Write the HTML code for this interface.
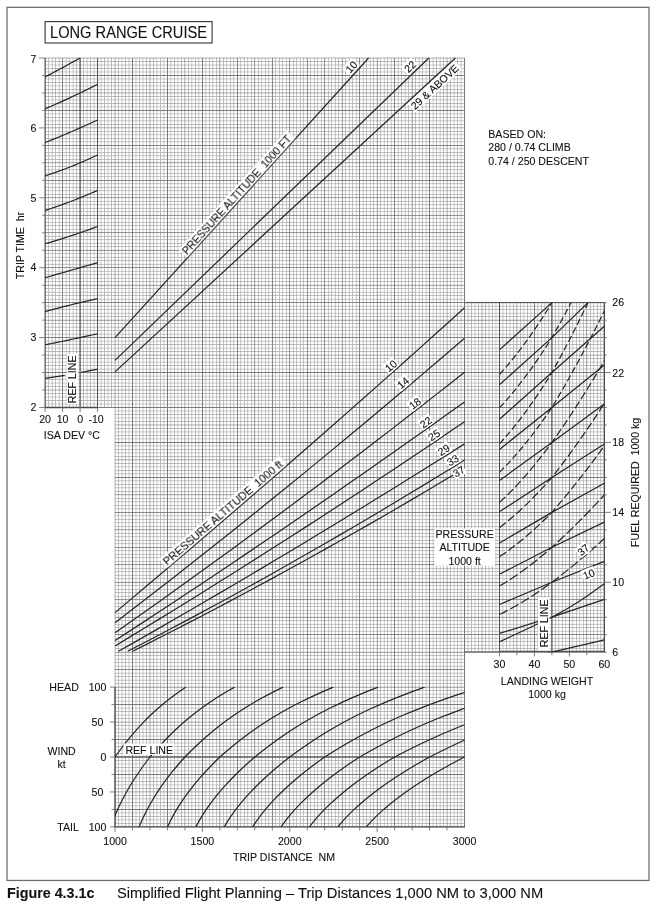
<!DOCTYPE html>
<html lang="en">
<head>
<meta charset="utf-8">
<title>Figure 4.3.1c Simplified Flight Planning - Trip Distances 1,000 NM to 3,000 NM</title>
<style>
html,body{margin:0;padding:0;background:#fff;}
body{width:656px;height:911px;overflow:hidden;position:relative;font-family:"Liberation Sans",sans-serif;color:#1a1a1a;}
#chart{position:absolute;left:0;top:0;width:656px;height:911px;}
#chart text{font-family:"Liberation Sans",sans-serif;fill:#111;stroke:#111;stroke-width:0.1px;}
</style>
</head>
<body>
<svg id="chart" width="656" height="911" viewBox="0 0 656 911">
<rect id="frame" x="7" y="7.35" width="642" height="873.1" fill="none" stroke="#6c6c6c" stroke-width="1.25"/>
<g id="grid-and-curves">
<path d="M69.5 58V407.5M76.5 58V407.5M83.5 58V407.5M90.5 58V407.5M104.5 58V407.5M111.5 58V407.5M118.5 58V407.5M125.5 58V407.5M139.5 58V407.5M146.5 58V407.5M153.5 58V407.5M160.5 58V407.5M174.5 58V407.5M181.5 58V407.5M188.5 58V407.5M195.5 58V407.5M415.5 58V407.5M422.5 58V407.5M436.5 58V407.5M443.5 58V407.5M450.5 58V407.5M457.5 58V407.5M45.12 61.5H464.53M45.12 68.5H464.53M45.12 82.5H464.53M45.12 89.5H464.53M45.12 96.5H464.53M45.12 103.5H464.53M45.12 117.5H464.53M45.12 124.5H464.53M45.12 344.5H464.53M45.12 351.5H464.53M45.12 358.5H464.53M45.12 365.5H464.53M45.12 379.5H464.53M45.12 386.5H464.53M45.12 393.5H464.53M45.12 400.5H464.53M118.5 407.5V826.9M125.5 407.5V826.9M139.5 407.5V826.9M146.5 407.5V826.9M153.5 407.5V826.9M160.5 407.5V826.9M174.5 407.5V826.9M181.5 407.5V826.9M188.5 407.5V826.9M195.5 407.5V826.9M415.5 407.5V826.9M422.5 407.5V826.9M436.5 407.5V826.9M443.5 407.5V826.9M450.5 407.5V826.9M457.5 407.5V826.9M115.03 414.5H464.53M115.03 421.5H464.53M115.03 428.5H464.53M115.03 435.5H464.53M115.03 449.5H464.53M115.03 456.5H464.53M115.03 463.5H464.53M115.03 470.5H464.53M115.03 690.5H464.53M115.03 697.5H464.53M115.03 711.5H464.53M115.03 718.5H464.53M115.03 725.5H464.53M115.03 732.5H464.53M115.03 746.5H464.53M115.03 753.5H464.53M115.03 760.5H464.53M115.03 767.5H464.53M115.03 781.5H464.53M115.03 788.5H464.53M115.03 795.5H464.53M115.03 802.5H464.53M115.03 816.5H464.53M115.03 823.5H464.53M471.5 302.65V652.15M478.5 302.65V652.15M485.5 302.65V652.15M492.5 302.65V652.15M506.5 302.65V652.15M513.5 302.65V652.15M520.5 302.65V652.15M527.5 302.65V652.15M541.5 302.65V652.15M548.5 302.65V652.15M464.53 344.5H604.33M464.53 351.5H604.33M464.53 358.5H604.33M464.53 365.5H604.33M464.53 379.5H604.33M464.53 386.5H604.33M464.53 393.5H604.33M464.53 400.5H604.33M464.53 414.5H604.33M464.53 421.5H604.33M464.53 428.5H604.33M464.53 435.5H604.33M464.53 449.5H604.33M464.53 456.5H604.33M464.53 463.5H604.33M464.53 470.5H604.33" fill="none" stroke="#a0a0a0" stroke-width="0.7" stroke-opacity="0.98"/>
<path d="M48.51 58V407.5M55.51 58V407.5M209.49 58V407.5M216.49 58V407.5M223.49 58V407.5M230.49 58V407.5M244.48 58V407.5M251.48 58V407.5M258.48 58V407.5M265.47 58V407.5M345.53 58V407.5M352.53 58V407.5M366.52 58V407.5M373.51 58V407.5M380.51 58V407.5M387.51 58V407.5M401.51 58V407.5M408.5 58V407.5M45.12 131.5H464.53M45.12 138.49H464.53M45.12 152.49H464.53M45.12 159.49H464.53M45.12 166.49H464.53M45.12 173.48H464.53M45.12 187.47H464.53M45.12 194.47H464.53M45.12 274.53H464.53M45.12 281.52H464.53M45.12 288.52H464.53M45.12 295.52H464.53M45.12 309.51H464.53M45.12 316.51H464.53M45.12 323.51H464.53M45.12 330.51H464.53M209.49 407.5V826.9M216.49 407.5V826.9M223.49 407.5V826.9M230.49 407.5V826.9M244.48 407.5V826.9M251.48 407.5V826.9M258.48 407.5V826.9M265.47 407.5V826.9M345.53 407.5V826.9M352.53 407.5V826.9M366.52 407.5V826.9M373.51 407.5V826.9M380.51 407.5V826.9M387.51 407.5V826.9M401.51 407.5V826.9M408.5 407.5V826.9M115.03 484.49H464.53M115.03 491.49H464.53M115.03 498.49H464.53M115.03 505.49H464.53M115.03 519.48H464.53M115.03 526.48H464.53M115.03 533.48H464.53M115.03 540.47H464.53M115.03 620.53H464.53M115.03 627.53H464.53M115.03 641.52H464.53M115.03 648.51H464.53M115.03 655.51H464.53M115.03 662.51H464.53M115.03 676.51H464.53M115.03 683.5H464.53M555.5 302.65V652.15M562.49 302.65V652.15M576.49 302.65V652.15M583.49 302.65V652.15M590.49 302.65V652.15M597.48 302.65V652.15M464.53 309.51H604.33M464.53 316.51H604.33M464.53 323.51H604.33M464.53 330.51H604.33M464.53 484.49H604.33M464.53 491.49H604.33M464.53 498.49H604.33M464.53 505.49H604.33M464.53 519.48H604.33M464.53 526.48H604.33M464.53 533.48H604.33M464.53 540.47H604.33M464.53 620.53H604.33M464.53 627.53H604.33M464.53 641.52H604.33M464.53 648.51H604.33" fill="none" stroke="#a0a0a0" stroke-width="0.7" stroke-opacity="0.93"/>
<path d="M275.6 58V407.5M279.46 58V407.5M282.59 58V407.5M286.46 58V407.5M293.45 58V407.5M296.57 58V407.5M300.44 58V407.5M303.57 58V407.5M310.56 58V407.5M314.43 58V407.5M317.55 58V407.5M321.42 58V407.5M328.41 58V407.5M331.54 58V407.5M335.4 58V407.5M338.53 58V407.5M45.12 201.47H464.53M45.12 204.6H464.53M45.12 208.46H464.53M45.12 211.59H464.53M45.12 218.58H464.53M45.12 222.45H464.53M45.12 225.57H464.53M45.12 229.44H464.53M45.12 236.43H464.53M45.12 239.56H464.53M45.12 243.43H464.53M45.12 246.55H464.53M45.12 253.54H464.53M45.12 257.41H464.53M45.12 260.54H464.53M45.12 264.4H464.53M275.6 407.5V826.9M279.46 407.5V826.9M282.59 407.5V826.9M286.46 407.5V826.9M293.45 407.5V826.9M296.57 407.5V826.9M300.44 407.5V826.9M303.57 407.5V826.9M310.56 407.5V826.9M314.43 407.5V826.9M317.55 407.5V826.9M321.42 407.5V826.9M328.41 407.5V826.9M331.54 407.5V826.9M335.4 407.5V826.9M338.53 407.5V826.9M115.03 550.6H464.53M115.03 554.46H464.53M115.03 557.59H464.53M115.03 561.46H464.53M115.03 568.45H464.53M115.03 571.57H464.53M115.03 575.44H464.53M115.03 578.57H464.53M115.03 585.56H464.53M115.03 589.43H464.53M115.03 592.55H464.53M115.03 596.42H464.53M115.03 603.41H464.53M115.03 606.54H464.53M115.03 610.4H464.53M115.03 613.53H464.53M464.53 550.6H604.33M464.53 554.46H604.33M464.53 557.59H604.33M464.53 561.46H604.33M464.53 568.45H604.33M464.53 571.57H604.33M464.53 575.44H604.33M464.53 578.57H604.33M464.53 585.56H604.33M464.53 589.43H604.33M464.53 592.55H604.33M464.53 596.42H604.33M464.53 603.41H604.33M464.53 606.54H604.33M464.53 610.4H604.33M464.53 613.53H604.33" fill="none" stroke="#a0a0a0" stroke-width="0.7" stroke-opacity="0.89"/>
<path d="M52.27 58V407.5M59.25 58V407.5M205.75 58V407.5M212.73 58V407.5M226.69 58V407.5M233.68 58V407.5M240.66 58V407.5M247.65 58V407.5M261.63 58V407.5M268.61 58V407.5M349.38 58V407.5M356.37 58V407.5M363.36 58V407.5M370.34 58V407.5M384.31 58V407.5M391.3 58V407.5M398.28 58V407.5M405.26 58V407.5M45.12 134.74H464.53M45.12 141.72H464.53M45.12 148.7H464.53M45.12 155.69H464.53M45.12 169.66H464.53M45.12 176.64H464.53M45.12 183.63H464.53M45.12 190.62H464.53M45.12 271.39H464.53M45.12 278.37H464.53M45.12 292.35H464.53M45.12 299.34H464.53M45.12 306.32H464.53M45.12 313.31H464.53M45.12 327.27H464.53M45.12 334.25H464.53M205.75 407.5V826.9M212.73 407.5V826.9M226.69 407.5V826.9M233.68 407.5V826.9M240.66 407.5V826.9M247.65 407.5V826.9M261.63 407.5V826.9M268.61 407.5V826.9M349.38 407.5V826.9M356.37 407.5V826.9M363.36 407.5V826.9M370.34 407.5V826.9M384.31 407.5V826.9M391.3 407.5V826.9M398.28 407.5V826.9M405.26 407.5V826.9M115.03 480.75H464.53M115.03 487.73H464.53M115.03 501.69H464.53M115.03 508.68H464.53M115.03 515.66H464.53M115.03 522.65H464.53M115.03 536.63H464.53M115.03 543.61H464.53M115.03 624.38H464.53M115.03 631.37H464.53M115.03 638.36H464.53M115.03 645.34H464.53M115.03 659.31H464.53M115.03 666.3H464.53M115.03 673.28H464.53M115.03 680.26H464.53M558.74 302.65V652.15M565.72 302.65V652.15M572.7 302.65V652.15M579.69 302.65V652.15M593.66 302.65V652.15M600.64 302.65V652.15M464.53 306.32H604.33M464.53 313.31H604.33M464.53 327.27H604.33M464.53 334.25H604.33M464.53 480.75H604.33M464.53 487.73H604.33M464.53 501.69H604.33M464.53 508.68H604.33M464.53 515.66H604.33M464.53 522.65H604.33M464.53 536.63H604.33M464.53 543.61H604.33M464.53 624.38H604.33M464.53 631.37H604.33M464.53 638.36H604.33M464.53 645.34H604.33" fill="none" stroke="#a0a0a0" stroke-width="0.7" stroke-opacity="0.85"/>
<path d="M66.23 58V407.5M73.21 58V407.5M87.17 58V407.5M94.15 58V407.5M101.12 58V407.5M108.1 58V407.5M122.04 58V407.5M129.01 58V407.5M135.99 58V407.5M142.96 58V407.5M156.9 58V407.5M163.88 58V407.5M170.85 58V407.5M177.83 58V407.5M191.79 58V407.5M198.77 58V407.5M419.22 58V407.5M426.2 58V407.5M433.18 58V407.5M440.16 58V407.5M454.11 58V407.5M461.08 58V407.5M45.12 64.97H464.53M45.12 71.94H464.53M45.12 78.92H464.53M45.12 85.89H464.53M45.12 99.84H464.53M45.12 106.82H464.53M45.12 113.8H464.53M45.12 120.78H464.53M45.12 341.23H464.53M45.12 348.21H464.53M45.12 362.17H464.53M45.12 369.15H464.53M45.12 376.12H464.53M45.12 383.1H464.53M45.12 397.04H464.53M45.12 404.01H464.53M122.04 407.5V826.9M129.01 407.5V826.9M135.99 407.5V826.9M142.96 407.5V826.9M156.9 407.5V826.9M163.88 407.5V826.9M170.85 407.5V826.9M177.83 407.5V826.9M191.79 407.5V826.9M198.77 407.5V826.9M419.22 407.5V826.9M426.2 407.5V826.9M433.18 407.5V826.9M440.16 407.5V826.9M454.11 407.5V826.9M461.08 407.5V826.9M115.03 410.99H464.53M115.03 417.96H464.53M115.03 431.9H464.53M115.03 438.88H464.53M115.03 445.85H464.53M115.03 452.83H464.53M115.03 466.79H464.53M115.03 473.77H464.53M115.03 694.22H464.53M115.03 701.2H464.53M115.03 708.18H464.53M115.03 715.16H464.53M115.03 729.11H464.53M115.03 736.08H464.53M115.03 743.06H464.53M115.03 750.03H464.53M115.03 763.97H464.53M115.03 770.94H464.53M115.03 777.92H464.53M115.03 784.89H464.53M115.03 798.84H464.53M115.03 805.82H464.53M115.03 812.8H464.53M115.03 819.78H464.53M468.06 302.65V652.15M475.03 302.65V652.15M488.97 302.65V652.15M495.94 302.65V652.15M502.92 302.65V652.15M509.89 302.65V652.15M523.84 302.65V652.15M530.82 302.65V652.15M537.8 302.65V652.15M544.78 302.65V652.15M464.53 341.23H604.33M464.53 348.21H604.33M464.53 362.17H604.33M464.53 369.15H604.33M464.53 376.12H604.33M464.53 383.1H604.33M464.53 397.04H604.33M464.53 404.01H604.33M464.53 410.99H604.33M464.53 417.96H604.33M464.53 431.9H604.33M464.53 438.88H604.33M464.53 445.85H604.33M464.53 452.83H604.33M464.53 466.79H604.33M464.53 473.77H604.33" fill="none" stroke="#a0a0a0" stroke-width="0.7" stroke-opacity="0.80"/>
<path d="M97.5 58V407.5M132.5 58V407.5M167.5 58V407.5M202.5 58V407.5M429.5 58V407.5M464.5 58V407.5M45.12 75.5H464.53M45.12 110.5H464.53M45.12 372.5H464.53M45.12 407.5H464.53M132.5 407.5V826.9M167.5 407.5V826.9M202.5 407.5V826.9M429.5 407.5V826.9M464.5 407.5V826.9M115.03 442.5H464.53M115.03 477.5H464.53M115.03 704.5H464.53M115.03 739.5H464.53M115.03 774.5H464.53M115.03 809.5H464.53M499.5 302.65V652.15M534.5 302.65V652.15M464.53 372.5H604.33M464.53 407.5H604.33M464.53 442.5H604.33M464.53 477.5H604.33" fill="none" stroke="#666" stroke-width="0.9" stroke-opacity="0.95"/>
<path d="M62.5 58V407.5M237.49 58V407.5M272.47 58V407.5M359.52 58V407.5M394.51 58V407.5M45.12 145.49H464.53M45.12 180.48H464.53M45.12 302.51H464.53M45.12 337.5H464.53M237.49 407.5V826.9M272.47 407.5V826.9M359.52 407.5V826.9M394.51 407.5V826.9M115.03 512.49H464.53M115.03 634.52H464.53M115.03 669.51H464.53M569.49 302.65V652.15M604.48 302.65V652.15M464.53 302.51H604.33M464.53 337.5H604.33M464.53 512.49H604.33M464.53 634.52H604.33" fill="none" stroke="#666" stroke-width="0.9" stroke-opacity="0.86"/>
<path d="M289.58 58V407.5M307.44 58V407.5M324.55 58V407.5M45.12 215.45H464.53M45.12 232.56H464.53M45.12 250.42H464.53M45.12 267.53H464.53M289.58 407.5V826.9M307.44 407.5V826.9M324.55 407.5V826.9M115.03 547.47H464.53M115.03 564.58H464.53M115.03 582.44H464.53M115.03 599.55H464.53M115.03 617.39H464.53M464.53 547.47H604.33M464.53 564.58H604.33M464.53 582.44H604.33M464.53 599.55H604.33M464.53 617.39H604.33" fill="none" stroke="#666" stroke-width="0.9" stroke-opacity="0.78"/>
<path d="M45.29 58V407.5M219.71 58V407.5M254.64 58V407.5M342.39 58V407.5M377.33 58V407.5M412.24 58V407.5M45.12 162.67H464.53M45.12 197.61H464.53M45.12 285.36H464.53M45.12 320.29H464.53M219.71 407.5V826.9M254.64 407.5V826.9M342.39 407.5V826.9M377.33 407.5V826.9M412.24 407.5V826.9M115.03 494.71H464.53M115.03 529.64H464.53M115.03 652.33H464.53M115.03 687.24H464.53M115.03 826.76H464.53M586.67 302.65V652.15M464.53 320.29H604.33M464.53 494.71H604.33M464.53 529.64H604.33M464.53 652.33H604.33" fill="none" stroke="#666" stroke-width="0.9" stroke-opacity="0.69"/>
<path d="M80.19 58V407.5M115.07 58V407.5M149.93 58V407.5M184.81 58V407.5M447.14 58V407.5M45.12 58H464.53M45.12 92.86H464.53M45.12 127.76H464.53M45.12 355.19H464.53M45.12 390.07H464.53M115.07 407.5V826.9M149.93 407.5V826.9M184.81 407.5V826.9M447.14 407.5V826.9M115.03 424.93H464.53M115.03 459.81H464.53M115.03 722.14H464.53M115.03 757H464.53M115.03 791.86H464.53M482 302.65V652.15M516.86 302.65V652.15M551.76 302.65V652.15M464.53 355.19H604.33M464.53 390.07H604.33M464.53 424.93H604.33M464.53 459.81H604.33" fill="none" stroke="#666" stroke-width="0.9" stroke-opacity="0.59"/>
<path d="M45.12 58L45.12 407.5" fill="none" stroke="#505050" stroke-width="1.0"/>
<path d="M44.62 407.5L98.05 407.5" fill="none" stroke="#4c4c4c" stroke-width="1.4"/>
<path d="M97.55 58L97.55 407.5" fill="none" stroke="#555" stroke-width="0.9"/>
<path d="M80.08 58L80.08 407.5" fill="none" stroke="#5a5a5a" stroke-width="1.15"/>
<path d="M464.53 58L464.53 302.65" fill="none" stroke="#777" stroke-width="0.9"/>
<path d="M464.53 302.65L464.53 826.9" fill="none" stroke="#777" stroke-width="0.9"/>
<path d="M464.53 302.65L604.33 302.65" fill="none" stroke="#4a4a4a" stroke-width="0.9"/>
<path d="M499.48 302.65L499.48 652.15" fill="none" stroke="#4a4a4a" stroke-width="0.9"/>
<path d="M604.33 302.65L604.33 652.4" fill="none" stroke="#4a4a4a" stroke-width="1.3"/>
<path d="M464.53 651.9L499.48 651.9" fill="none" stroke="#555" stroke-width="1.0"/>
<path d="M499.48 651.6L604.93 651.6" fill="none" stroke="#555" stroke-width="1.5"/>
<path d="M551.9 302.65L551.9 652.15" fill="none" stroke="#5a5a5a" stroke-width="1.15"/>
<path d="M115.03 687.1L115.03 827.5" fill="none" stroke="#4a4a4a" stroke-width="1.3"/>
<path d="M115.03 826.9L465.03 826.9" fill="none" stroke="#505050" stroke-width="1.3"/>
<path d="M115.03 757L464.53 757" fill="none" stroke="#666" stroke-width="1.4"/>
<path d="M39.12 58L45.12 58" fill="none" stroke="#777" stroke-width="0.9"/>
<path d="M42.12 75.47L45.12 75.47" fill="none" stroke="#777" stroke-width="0.9"/>
<path d="M42.12 92.95L45.12 92.95" fill="none" stroke="#777" stroke-width="0.9"/>
<path d="M42.12 110.43L45.12 110.43" fill="none" stroke="#777" stroke-width="0.9"/>
<path d="M39.12 127.9L45.12 127.9" fill="none" stroke="#777" stroke-width="0.9"/>
<path d="M42.12 145.38L45.12 145.38" fill="none" stroke="#777" stroke-width="0.9"/>
<path d="M42.12 162.85L45.12 162.85" fill="none" stroke="#777" stroke-width="0.9"/>
<path d="M42.12 180.32L45.12 180.32" fill="none" stroke="#777" stroke-width="0.9"/>
<path d="M39.12 197.8L45.12 197.8" fill="none" stroke="#777" stroke-width="0.9"/>
<path d="M42.12 215.28L45.12 215.28" fill="none" stroke="#777" stroke-width="0.9"/>
<path d="M42.12 232.75L45.12 232.75" fill="none" stroke="#777" stroke-width="0.9"/>
<path d="M42.12 250.22L45.12 250.22" fill="none" stroke="#777" stroke-width="0.9"/>
<path d="M39.12 267.7L45.12 267.7" fill="none" stroke="#777" stroke-width="0.9"/>
<path d="M42.12 285.18L45.12 285.18" fill="none" stroke="#777" stroke-width="0.9"/>
<path d="M42.12 302.65L45.12 302.65" fill="none" stroke="#777" stroke-width="0.9"/>
<path d="M42.12 320.12L45.12 320.12" fill="none" stroke="#777" stroke-width="0.9"/>
<path d="M39.12 337.6L45.12 337.6" fill="none" stroke="#777" stroke-width="0.9"/>
<path d="M42.12 355.07L45.12 355.07" fill="none" stroke="#777" stroke-width="0.9"/>
<path d="M42.12 372.55L45.12 372.55" fill="none" stroke="#777" stroke-width="0.9"/>
<path d="M42.12 390.03L45.12 390.03" fill="none" stroke="#777" stroke-width="0.9"/>
<path d="M39.12 407.5L45.12 407.5" fill="none" stroke="#777" stroke-width="0.9"/>
<path d="M45.12 407.5L45.12 412" fill="none" stroke="#707070" stroke-width="0.9"/>
<path d="M62.6 407.5L62.6 412" fill="none" stroke="#707070" stroke-width="0.9"/>
<path d="M80.08 407.5L80.08 412" fill="none" stroke="#707070" stroke-width="0.9"/>
<path d="M97.55 407.5L97.55 412" fill="none" stroke="#707070" stroke-width="0.9"/>
<path d="M604.33 302.65L606.83 302.65" fill="none" stroke="#707070" stroke-width="0.9"/>
<path d="M604.33 320.12L606.83 320.12" fill="none" stroke="#707070" stroke-width="0.9"/>
<path d="M604.33 337.6L606.83 337.6" fill="none" stroke="#707070" stroke-width="0.9"/>
<path d="M604.33 355.07L606.83 355.07" fill="none" stroke="#707070" stroke-width="0.9"/>
<path d="M604.33 372.55L610.83 372.55" fill="none" stroke="#707070" stroke-width="0.9"/>
<path d="M604.33 390.03L606.83 390.03" fill="none" stroke="#707070" stroke-width="0.9"/>
<path d="M604.33 407.5L606.83 407.5" fill="none" stroke="#707070" stroke-width="0.9"/>
<path d="M604.33 424.98L606.83 424.98" fill="none" stroke="#707070" stroke-width="0.9"/>
<path d="M604.33 442.45L610.83 442.45" fill="none" stroke="#707070" stroke-width="0.9"/>
<path d="M604.33 459.93L606.83 459.93" fill="none" stroke="#707070" stroke-width="0.9"/>
<path d="M604.33 477.4L606.83 477.4" fill="none" stroke="#707070" stroke-width="0.9"/>
<path d="M604.33 494.88L606.83 494.88" fill="none" stroke="#707070" stroke-width="0.9"/>
<path d="M604.33 512.35L610.83 512.35" fill="none" stroke="#707070" stroke-width="0.9"/>
<path d="M604.33 529.83L606.83 529.83" fill="none" stroke="#707070" stroke-width="0.9"/>
<path d="M604.33 547.3L606.83 547.3" fill="none" stroke="#707070" stroke-width="0.9"/>
<path d="M604.33 564.78L606.83 564.78" fill="none" stroke="#707070" stroke-width="0.9"/>
<path d="M604.33 582.25L610.83 582.25" fill="none" stroke="#707070" stroke-width="0.9"/>
<path d="M604.33 599.73L606.83 599.73" fill="none" stroke="#707070" stroke-width="0.9"/>
<path d="M604.33 617.2L606.83 617.2" fill="none" stroke="#707070" stroke-width="0.9"/>
<path d="M604.33 634.68L606.83 634.68" fill="none" stroke="#707070" stroke-width="0.9"/>
<path d="M604.33 652.15L606.83 652.15" fill="none" stroke="#707070" stroke-width="0.9"/>
<path d="M499.48 652.4L499.48 656.4" fill="none" stroke="#707070" stroke-width="0.9"/>
<path d="M516.95 652.4L516.95 655.4" fill="none" stroke="#707070" stroke-width="0.9"/>
<path d="M534.42 652.4L534.42 656.4" fill="none" stroke="#707070" stroke-width="0.9"/>
<path d="M551.9 652.4L551.9 655.4" fill="none" stroke="#707070" stroke-width="0.9"/>
<path d="M569.38 652.4L569.38 656.4" fill="none" stroke="#707070" stroke-width="0.9"/>
<path d="M586.85 652.4L586.85 655.4" fill="none" stroke="#707070" stroke-width="0.9"/>
<path d="M110.03 687.1L115.03 687.1" fill="none" stroke="#707070" stroke-width="0.9"/>
<path d="M111.53 704.58L115.03 704.58" fill="none" stroke="#707070" stroke-width="0.9"/>
<path d="M110.03 722.05L115.03 722.05" fill="none" stroke="#707070" stroke-width="0.9"/>
<path d="M111.53 739.52L115.03 739.52" fill="none" stroke="#707070" stroke-width="0.9"/>
<path d="M110.03 757L115.03 757" fill="none" stroke="#707070" stroke-width="0.9"/>
<path d="M111.53 774.48L115.03 774.48" fill="none" stroke="#707070" stroke-width="0.9"/>
<path d="M110.03 791.95L115.03 791.95" fill="none" stroke="#707070" stroke-width="0.9"/>
<path d="M111.53 809.43L115.03 809.43" fill="none" stroke="#707070" stroke-width="0.9"/>
<path d="M110.03 826.9L115.03 826.9" fill="none" stroke="#707070" stroke-width="0.9"/>
<path d="M115.03 826.9L115.03 831.9" fill="none" stroke="#707070" stroke-width="0.9"/>
<path d="M132.5 826.9L132.5 830.4" fill="none" stroke="#707070" stroke-width="0.9"/>
<path d="M149.98 826.9L149.98 830.4" fill="none" stroke="#707070" stroke-width="0.9"/>
<path d="M167.45 826.9L167.45 830.4" fill="none" stroke="#707070" stroke-width="0.9"/>
<path d="M184.93 826.9L184.93 830.4" fill="none" stroke="#707070" stroke-width="0.9"/>
<path d="M202.4 826.9L202.4 831.9" fill="none" stroke="#707070" stroke-width="0.9"/>
<path d="M219.88 826.9L219.88 830.4" fill="none" stroke="#707070" stroke-width="0.9"/>
<path d="M237.35 826.9L237.35 830.4" fill="none" stroke="#707070" stroke-width="0.9"/>
<path d="M254.83 826.9L254.83 830.4" fill="none" stroke="#707070" stroke-width="0.9"/>
<path d="M272.3 826.9L272.3 830.4" fill="none" stroke="#707070" stroke-width="0.9"/>
<path d="M289.77 826.9L289.77 831.9" fill="none" stroke="#707070" stroke-width="0.9"/>
<path d="M307.25 826.9L307.25 830.4" fill="none" stroke="#707070" stroke-width="0.9"/>
<path d="M324.73 826.9L324.73 830.4" fill="none" stroke="#707070" stroke-width="0.9"/>
<path d="M342.2 826.9L342.2 830.4" fill="none" stroke="#707070" stroke-width="0.9"/>
<path d="M359.68 826.9L359.68 830.4" fill="none" stroke="#707070" stroke-width="0.9"/>
<path d="M377.15 826.9L377.15 831.9" fill="none" stroke="#707070" stroke-width="0.9"/>
<path d="M394.62 826.9L394.62 830.4" fill="none" stroke="#707070" stroke-width="0.9"/>
<path d="M412.1 826.9L412.1 830.4" fill="none" stroke="#707070" stroke-width="0.9"/>
<path d="M429.57 826.9L429.57 830.4" fill="none" stroke="#707070" stroke-width="0.9"/>
<path d="M447.05 826.9L447.05 830.4" fill="none" stroke="#707070" stroke-width="0.9"/>
<path d="M45.12 76.9L47.31 75.76L49.49 74.61L51.68 73.45L53.86 72.29L56.05 71.13L58.23 69.96L60.42 68.79L62.6 67.61L64.78 66.42L66.97 65.24L69.15 64.04L71.34 62.84L73.52 61.64L75.71 60.43L77.89 59.22L80.08 58" fill="none" stroke="#262626" stroke-width="1.22" stroke-linejoin="round"/>
<path d="M45.12 108.85L48.4 107.43L51.68 106L54.95 104.55L58.23 103.09L61.51 101.61L64.78 100.12L68.06 98.61L71.34 97.09L74.61 95.55L77.89 93.99L81.17 92.43L84.44 90.84L87.72 89.24L91 87.63L94.27 86L97.55 84.35" fill="none" stroke="#262626" stroke-width="1.22" stroke-linejoin="round"/>
<path d="M45.12 142.5L48.4 141.2L51.68 139.88L54.95 138.56L58.23 137.21L61.51 135.86L64.78 134.48L68.06 133.1L71.34 131.7L74.61 130.29L77.89 128.86L81.17 127.42L84.44 125.96L87.72 124.49L91 123.01L94.27 121.51L97.55 120" fill="none" stroke="#262626" stroke-width="1.22" stroke-linejoin="round"/>
<path d="M45.12 175.85L48.4 174.79L51.68 173.7L54.95 172.57L58.23 171.41L61.51 170.22L64.78 169L68.06 167.74L71.34 166.45L74.61 165.13L77.89 163.77L81.17 162.38L84.44 160.96L87.72 159.51L91 158.02L94.27 156.5L97.55 154.95" fill="none" stroke="#262626" stroke-width="1.22" stroke-linejoin="round"/>
<path d="M45.12 210.4L48.4 209.34L51.68 208.26L54.95 207.15L58.23 206.02L61.51 204.86L64.78 203.67L68.06 202.46L71.34 201.22L74.61 199.96L77.89 198.67L81.17 197.36L84.44 196.02L87.72 194.65L91 193.26L94.27 191.84L97.55 190.4" fill="none" stroke="#262626" stroke-width="1.22" stroke-linejoin="round"/>
<path d="M45.12 243.75L48.4 242.81L51.68 241.85L54.95 240.87L58.23 239.88L61.51 238.86L64.78 237.82L68.06 236.77L71.34 235.7L74.61 234.61L77.89 233.5L81.17 232.37L84.44 231.22L87.72 230.06L91 228.88L94.27 227.67L97.55 226.45" fill="none" stroke="#262626" stroke-width="1.22" stroke-linejoin="round"/>
<path d="M45.12 277.7L48.4 276.76L51.68 275.83L54.95 274.89L58.23 273.95L61.51 273.01L64.78 272.08L68.06 271.14L71.34 270.2L74.61 269.26L77.89 268.33L81.17 267.39L84.44 266.45L87.72 265.51L91 264.58L94.27 263.64L97.55 262.7" fill="none" stroke="#262626" stroke-width="1.22" stroke-linejoin="round"/>
<path d="M45.12 311.6L48.4 310.7L51.68 309.81L54.95 308.93L58.23 308.06L61.51 307.21L64.78 306.38L68.06 305.55L71.34 304.74L74.61 303.95L77.89 303.16L81.17 302.4L84.44 301.64L87.72 300.9L91 300.17L94.27 299.45L97.55 298.75" fill="none" stroke="#262626" stroke-width="1.22" stroke-linejoin="round"/>
<path d="M45.12 344.8L48.4 344.15L51.68 343.49L54.95 342.83L58.23 342.16L61.51 341.49L64.78 340.82L68.06 340.14L71.34 339.45L74.61 338.76L77.89 338.07L81.17 337.37L84.44 336.66L87.72 335.95L91 335.24L94.27 334.52L97.55 333.8" fill="none" stroke="#262626" stroke-width="1.22" stroke-linejoin="round"/>
<path d="M45.12 378.45L48.4 377.95L51.68 377.44L54.95 376.91L58.23 376.38L61.51 375.83L64.78 375.28" fill="none" stroke="#262626" stroke-width="1.22" stroke-linejoin="round"/>
<path d="M81.17 372.35L84.44 371.73L87.72 371.1L91 370.46L94.27 369.81L97.55 369.15" fill="none" stroke="#262626" stroke-width="1.22" stroke-linejoin="round"/>
<path d="M115.03 337.71L368.62 58" fill="none" stroke="#262626" stroke-width="1.22"/>
<path d="M115.03 360.36L428.81 58" fill="none" stroke="#262626" stroke-width="1.22"/>
<path d="M115.03 371.85L455.38 58" fill="none" stroke="#262626" stroke-width="1.22"/>
<path d="M115.03 612.6L129.59 600.35L144.15 588.05L158.71 575.72L173.28 563.35L187.84 550.95L202.4 538.5L216.96 526.01L231.53 513.49L246.09 500.92L260.65 488.32L275.21 475.68L289.77 463L304.34 450.28L318.9 437.53L333.46 424.73L348.02 411.89L362.59 399.02L377.15 386.11L391.71 373.16L406.27 360.17L420.84 347.14L435.4 334.07L449.96 320.97L464.52 307.82" fill="none" stroke="#262626" stroke-width="1.22" stroke-linejoin="round"/>
<path d="M115.03 622.7L129.59 611.53L144.15 600.3L158.71 589.01L173.28 577.66L187.84 566.25L202.4 554.79L216.96 543.26L231.53 531.67L246.09 520.03L260.65 508.32L275.21 496.56L289.77 484.73L304.34 472.85L318.9 460.9L333.46 448.9L348.02 436.84L362.59 424.72L377.15 412.53L391.71 400.29L406.27 387.99L420.84 375.63L435.4 363.21L449.96 350.73L464.52 338.19" fill="none" stroke="#262626" stroke-width="1.22" stroke-linejoin="round"/>
<path d="M115.03 632.7L129.59 622.49L144.15 612.22L158.71 601.89L173.28 591.51L187.84 581.08L202.4 570.59L216.96 560.04L231.53 549.43L246.09 538.77L260.65 528.06L275.21 517.29L289.77 506.46L304.34 495.58L318.9 484.64L333.46 473.65L348.02 462.6L362.59 451.49L377.15 440.33L391.71 429.11L406.27 417.84L420.84 406.51L435.4 395.12L449.96 383.68L464.52 372.18" fill="none" stroke="#262626" stroke-width="1.22" stroke-linejoin="round"/>
<path d="M115.03 640.6L129.59 631.13L144.15 621.62L158.71 612.06L173.28 602.47L187.84 592.83L202.4 583.16L216.96 573.44L231.53 563.68L246.09 553.88L260.65 544.03L275.21 534.15L289.77 524.22L304.34 514.25L318.9 504.24L333.46 494.19L348.02 484.1L362.59 473.97L377.15 463.79L391.71 453.58L406.27 443.32L420.84 433.02L435.4 422.68L449.96 412.3L464.52 401.88" fill="none" stroke="#262626" stroke-width="1.22" stroke-linejoin="round"/>
<path d="M115.03 645.9L129.59 637.11L144.15 628.27L158.71 619.38L173.28 610.44L187.84 601.46L202.4 592.43L216.96 583.35L231.53 574.22L246.09 565.05L260.65 555.82L275.21 546.55L289.77 537.23L304.34 527.87L318.9 518.45L333.46 508.99L348.02 499.48L362.59 489.92L377.15 480.31L391.71 470.66L406.27 460.95L420.84 451.2L435.4 441.4L449.96 431.56L464.52 421.66" fill="none" stroke="#262626" stroke-width="1.22" stroke-linejoin="round"/>
<path d="M118.5 651.3L132.92 643.11L147.34 634.87L161.75 626.6L176.17 618.29L190.59 609.94L205.01 601.56L219.42 593.13L233.84 584.66L248.26 576.16L262.68 567.61L277.09 559.03L291.51 550.4L305.93 541.74L320.35 533.04L334.77 524.3L349.18 515.52L363.6 506.7L378.02 497.84L392.44 488.94L406.85 480.01L421.27 471.03L435.69 462.02L450.11 452.96L464.53 443.87" fill="none" stroke="#262626" stroke-width="1.22" stroke-linejoin="round"/>
<path d="M127.7 651.3L141.73 644.04L155.77 636.72L169.8 629.33L183.84 621.88L197.87 614.38L211.91 606.81L225.94 599.18L239.98 591.48L254.01 583.73L268.04 575.91L282.08 568.03L296.11 560.09L310.15 552.09L324.18 544.03L338.22 535.9L352.25 527.72L366.28 519.47L380.32 511.16L394.35 502.79L408.39 494.35L422.42 485.86L436.46 477.3L450.49 468.68L464.53 460" fill="none" stroke="#262626" stroke-width="1.22" stroke-linejoin="round"/>
<path d="M132.6 651.3L146.43 644.34L160.26 637.32L174.09 630.25L187.92 623.12L201.75 615.92L215.58 608.68L229.41 601.37L243.24 594L257.07 586.58L270.9 579.1L284.73 571.56L298.56 563.97L312.39 556.31L326.22 548.6L340.05 540.83L353.88 533L367.71 525.12L381.54 517.17L395.37 509.17L409.2 501.11L423.03 492.99L436.86 484.82L450.69 476.58L464.53 468.29" fill="none" stroke="#262626" stroke-width="1.22" stroke-linejoin="round"/>
<clipPath id="cpR"><rect x="499.48" y="302.65" width="104.85" height="349.5"/></clipPath>
<g clip-path="url(#cpR)">
<path d="M499.48 349.83L551.9 302.65L604.33 251.8" fill="none" stroke="#262626" stroke-width="1.22" stroke-linejoin="round"/>
<path d="M499.48 384.73L551.9 337.6L604.33 286.75" fill="none" stroke="#262626" stroke-width="1.22" stroke-linejoin="round"/>
<path d="M499.48 419.26L551.9 372.55L604.33 326.21" fill="none" stroke="#262626" stroke-width="1.22" stroke-linejoin="round"/>
<path d="M499.48 449.44L551.9 407.5L604.33 364.98" fill="none" stroke="#262626" stroke-width="1.22" stroke-linejoin="round"/>
<path d="M499.48 480.56L551.9 442.45L604.33 404.02" fill="none" stroke="#262626" stroke-width="1.22" stroke-linejoin="round"/>
<path d="M499.48 511.74L551.9 477.4L604.33 444.01" fill="none" stroke="#262626" stroke-width="1.22" stroke-linejoin="round"/>
<path d="M499.48 543.07L551.9 512.35L604.33 483.25" fill="none" stroke="#262626" stroke-width="1.22" stroke-linejoin="round"/>
<path d="M499.48 574.19L551.9 547.3L604.33 522.14" fill="none" stroke="#262626" stroke-width="1.22" stroke-linejoin="round"/>
<path d="M499.48 604.48L551.9 582.25L604.33 561.44" fill="none" stroke="#262626" stroke-width="1.22" stroke-linejoin="round"/>
<path d="M499.48 665.26L551.9 652.15L604.33 639.93" fill="none" stroke="#262626" stroke-width="1.22" stroke-linejoin="round"/>
<path d="M499.48 374.47L503.84 369.58L508.21 364.5L512.58 359.21L516.95 353.72L521.32 348.04L525.69 342.15L530.06 336.07L534.43 329.78L538.79 323.3L543.16 316.62L547.53 309.73L551.9 302.65L556.27 294.71L560.64 286.63L565.01 278.4L569.38 270.03L573.74 261.51L578.11 252.85L582.48 244.04L586.85 235.08L591.22 225.98L595.59 216.73L599.96 207.34L604.33 197.8" fill="none" stroke="#262626" stroke-width="1.22" stroke-linejoin="round" stroke-dasharray="6.5 3"/>
<path d="M499.48 407.85L503.84 403.07L508.21 398.09L512.58 392.92L516.95 387.56L521.32 381.99L525.69 376.24L530.06 370.29L534.43 364.14L538.79 357.8L543.16 351.26L547.53 344.53L551.9 337.6L556.27 329.86L560.64 321.98L565.01 313.96L569.38 305.8L573.74 297.49L578.11 289.04L582.48 280.45L586.85 271.72L591.22 262.85L595.59 253.83L599.96 244.67L604.33 235.37" fill="none" stroke="#262626" stroke-width="1.22" stroke-linejoin="round" stroke-dasharray="6.5 3"/>
<path d="M499.48 443.85L503.84 439L508.21 433.95L512.58 428.7L516.95 423.25L521.32 417.61L525.69 411.76L530.06 405.72L534.43 399.48L538.79 393.05L543.16 386.41L547.53 379.58L551.9 372.55L556.27 364.61L560.64 356.53L565.01 348.3L569.38 339.93L573.74 331.41L578.11 322.75L582.48 313.94L586.85 304.98L591.22 295.88L595.59 286.63L599.96 277.24L604.33 267.7" fill="none" stroke="#262626" stroke-width="1.22" stroke-linejoin="round" stroke-dasharray="6.5 3"/>
<path d="M499.48 472.35L503.84 467.94L508.21 463.34L512.58 458.57L516.95 453.62L521.32 448.48L525.69 443.17L530.06 437.67L534.43 432L538.79 426.14L543.16 420.11L547.53 413.89L551.9 407.5L556.27 400.2L560.64 392.76L565.01 385.19L569.38 377.49L573.74 369.65L578.11 361.68L582.48 353.58L586.85 345.34L591.22 336.96L595.59 328.45L599.96 319.81L604.33 311.04" fill="none" stroke="#262626" stroke-width="1.22" stroke-linejoin="round" stroke-dasharray="6.5 3"/>
<path d="M499.48 502.48L503.84 498.39L508.21 494.14L512.58 489.72L516.95 485.14L521.32 480.38L525.69 475.46L530.06 470.38L534.43 465.13L538.79 459.71L543.16 454.12L547.53 448.37L551.9 442.45L556.27 436.26L560.64 429.96L565.01 423.54L569.38 417.01L573.74 410.36L578.11 403.6L582.48 396.73L586.85 389.75L591.22 382.65L595.59 375.43L599.96 368.11L604.33 360.67" fill="none" stroke="#262626" stroke-width="1.22" stroke-linejoin="round" stroke-dasharray="8 3"/>
<path d="M499.48 527.73L503.84 524.3L508.21 520.74L512.58 517.03L516.95 513.19L521.32 509.2L525.69 505.08L530.06 500.82L534.43 496.41L538.79 491.87L543.16 487.19L547.53 482.36L551.9 477.4L556.27 471.8L560.64 466.11L565.01 460.31L569.38 454.4L573.74 448.4L578.11 442.29L582.48 436.08L586.85 429.76L591.22 423.35L595.59 416.83L599.96 410.21L604.33 403.48" fill="none" stroke="#262626" stroke-width="1.22" stroke-linejoin="round" stroke-dasharray="8 3"/>
<path d="M499.48 556.75L503.84 553.73L508.21 550.59L512.58 547.32L516.95 543.93L521.32 540.41L525.69 536.77L530.06 533.01L534.43 529.12L538.79 525.12L543.16 520.98L547.53 516.73L551.9 512.35L556.27 507.31L560.64 502.18L565.01 496.95L569.38 491.64L573.74 486.23L578.11 480.72L582.48 475.13L586.85 469.44L591.22 463.66L595.59 457.79L599.96 451.83L604.33 445.77" fill="none" stroke="#262626" stroke-width="1.22" stroke-linejoin="round" stroke-dasharray="8 3"/>
<path d="M499.48 586.09L503.84 583.45L508.21 580.71L512.58 577.85L516.95 574.89L521.32 571.82L525.69 568.64L530.06 565.35L534.43 561.96L538.79 558.45L543.16 554.84L547.53 551.13L551.9 547.3L556.27 543.33L560.64 539.29L565.01 535.18L569.38 530.99L573.74 526.73L578.11 522.4L582.48 517.99L586.85 513.51L591.22 508.96L595.59 504.34L599.96 499.64L604.33 494.87" fill="none" stroke="#262626" stroke-width="1.22" stroke-linejoin="round" stroke-dasharray="9.4 2.8"/>
<path d="M499.48 614.54L503.84 612.35L508.21 610.06L512.58 607.68L516.95 605.21L521.32 602.66L525.69 600.01L530.06 597.28L534.43 594.45L538.79 591.53L543.16 588.53L547.53 585.43L551.9 582.25L556.27 578.94L560.64 575.57L565.01 572.14L569.38 568.65L573.74 565.1L578.11 561.48L582.48 557.81L586.85 554.07L591.22 550.28L595.59 546.42L599.96 542.51L604.33 538.53" fill="none" stroke="#262626" stroke-width="1.22" stroke-linejoin="round" stroke-dasharray="9.4 2.8"/>
<path d="M499.48 633.45L551.9 617.2L604.33 599.38" fill="none" stroke="#262626" stroke-width="1.22" stroke-linejoin="round"/>
<path d="M499.48 641.84L551.9 617.2L557.14 614.41L562.39 611.5L567.63 608.46L572.87 605.29L578.11 602L583.36 598.58L588.6 595.03L593.84 591.36L599.08 587.57L604.33 583.65" fill="none" stroke="#262626" stroke-width="1.22" stroke-linejoin="round"/>
</g>
<clipPath id="cpW"><rect x="115.03" y="687.1" width="349.5" height="139.8"/></clipPath>
<g clip-path="url(#cpW)">
<path d="M82.28 826.9L83.31 823.4L84.41 819.91L85.58 816.41L86.8 812.92L88.09 809.42L89.44 805.93L90.86 802.43L92.34 798.94L93.88 795.45L95.49 791.95L97.16 788.46L98.89 784.96L100.68 781.47L102.54 777.97L104.46 774.48L106.45 770.98L108.5 767.49L110.61 763.99L112.79 760.5L115.03 757L117.53 753.5L120.09 750.01L122.72 746.51L125.42 743.02L128.19 739.52L131.06 736.03L134.03 732.53L137.11 729.04L140.31 725.54L143.64 722.05L147.1 718.55L150.71 715.06L154.48 711.57L158.41 708.07L162.52 704.58L166.81 701.08L171.3 697.59L175.98 694.09L180.88 690.6L186 687.1" fill="none" stroke="#262626" stroke-width="1.22" stroke-linejoin="round"/>
<path d="M110.68 826.9L111.92 823.4L113.24 819.91L114.63 816.41L116.1 812.92L117.65 809.42L119.27 805.93L120.97 802.43L122.75 798.94L124.6 795.45L126.53 791.95L128.53 788.46L130.61 784.96L132.76 781.47L134.99 777.97L137.3 774.48L139.68 770.98L142.14 767.49L144.68 763.99L147.29 760.5L149.98 757L152.97 753.5L156.02 750.01L159.15 746.51L162.37 743.02L165.69 739.52L169.11 736.03L172.65 732.53L176.33 729.04L180.14 725.54L184.11 722.05L188.24 718.55L192.55 715.06L197.05 711.57L201.74 708.07L206.64 704.58L211.76 701.08L217.11 697.59L222.7 694.09L228.54 690.6L234.65 687.1" fill="none" stroke="#262626" stroke-width="1.22" stroke-linejoin="round"/>
<path d="M139.07 826.9L140.52 823.4L142.06 819.91L143.69 816.41L145.41 812.92L147.21 809.42L149.1 805.93L151.09 802.43L153.16 798.94L155.32 795.45L157.57 791.95L159.9 788.46L162.33 784.96L164.84 781.47L167.45 777.97L170.14 774.48L172.92 770.98L175.79 767.49L178.74 763.99L181.79 760.5L184.93 757L188.39 753.5L191.93 750.01L195.56 746.51L199.29 743.02L203.13 739.52L207.1 736.03L211.2 732.53L215.46 729.04L219.88 725.54L224.48 722.05L229.27 718.55L234.26 715.06L239.46 711.57L244.9 708.07L250.58 704.58L256.51 701.08L262.71 697.59L269.19 694.09L275.96 690.6L283.04 687.1" fill="none" stroke="#262626" stroke-width="1.22" stroke-linejoin="round"/>
<path d="M167.47 826.9L169.13 823.4L170.89 819.91L172.75 816.41L174.71 812.92L176.77 809.42L178.94 805.93L181.2 802.43L183.57 798.94L186.04 795.45L188.61 791.95L191.28 788.46L194.05 784.96L196.92 781.47L199.9 777.97L202.97 774.48L206.15 770.98L209.43 767.49L212.81 763.99L216.29 760.5L219.88 757L223.88 753.5L227.98 750.01L232.18 746.51L236.49 743.02L240.93 739.52L245.52 736.03L250.27 732.53L255.19 729.04L260.3 725.54L265.62 722.05L271.16 718.55L276.93 715.06L282.95 711.57L289.24 708.07L295.81 704.58L302.67 701.08L309.84 697.59L317.33 694.09L325.16 690.6L333.35 687.1" fill="none" stroke="#262626" stroke-width="1.22" stroke-linejoin="round"/>
<path d="M195.87 826.9L197.73 823.4L199.71 819.91L201.8 816.41L204.01 812.92L206.33 809.42L208.77 805.93L211.31 802.43L213.98 798.94L216.75 795.45L219.65 791.95L222.65 788.46L225.77 784.96L229 781.47L232.35 777.97L235.81 774.48L239.39 770.98L243.07 767.49L246.88 763.99L250.79 760.5L254.83 757L259.18 753.5L263.63 750.01L268.19 746.51L272.87 743.02L277.7 739.52L282.68 736.03L287.84 732.53L293.18 729.04L298.74 725.54L304.52 722.05L310.53 718.55L316.8 715.06L323.34 711.57L330.17 708.07L337.31 704.58L344.76 701.08L352.55 697.59L360.69 694.09L369.2 690.6L378.09 687.1" fill="none" stroke="#262626" stroke-width="1.22" stroke-linejoin="round"/>
<path d="M224.26 826.9L226.33 823.4L228.53 819.91L230.86 816.41L233.31 812.92L235.89 809.42L238.6 805.93L241.43 802.43L244.39 798.94L247.47 795.45L250.69 791.95L254.02 788.46L257.49 784.96L261.08 781.47L264.8 777.97L268.65 774.48L272.62 770.98L276.72 767.49L280.94 763.99L285.3 760.5L289.77 757L294.54 753.5L299.41 750.01L304.4 746.51L309.52 743.02L314.8 739.52L320.25 736.03L325.89 732.53L331.75 729.04L337.82 725.54L344.14 722.05L350.73 718.55L357.59 715.06L364.74 711.57L372.22 708.07L380.02 704.58L388.17 701.08L396.7 697.59L405.6 694.09L414.91 690.6L424.64 687.1" fill="none" stroke="#262626" stroke-width="1.22" stroke-linejoin="round"/>
<path d="M252.66 826.9L254.94 823.4L257.36 819.91L259.92 816.41L262.61 812.92L265.45 809.42L268.43 805.93L271.54 802.43L274.8 798.94L278.19 795.45L281.73 791.95L285.4 788.46L289.21 784.96L293.16 781.47L297.25 777.97L301.48 774.48L305.85 770.98L310.36 767.49L315.01 763.99L319.8 760.5L324.73 757L330.27 753.5L335.93 750.01L341.72 746.51L347.68 743.02L353.82 739.52L360.16 736.03L366.72 732.53L373.53 729.04L380.59 725.54L387.94 722.05L395.59 718.55L403.57 715.06L411.89 711.57L420.58 708.07L429.66 704.58L439.14 701.08L449.05 697.59L459.4 694.09L470.23 690.6L481.54 687.1" fill="none" stroke="#262626" stroke-width="1.22" stroke-linejoin="round"/>
<path d="M281.06 826.9L283.54 823.4L286.18 819.91L288.97 816.41L291.92 812.92L295.01 809.42L298.26 805.93L301.66 802.43L305.21 798.94L308.91 795.45L312.77 791.95L316.77 788.46L320.93 784.96L325.24 781.47L329.71 777.97L334.32 774.48L339.09 770.98L344.01 767.49L349.08 763.99L354.3 760.5L359.68 757L365.78 753.5L372.01 750.01L378.4 746.51L384.97 743.02L391.73 739.52L398.71 736.03L405.94 732.53L413.44 729.04L421.22 725.54L429.32 722.05L437.75 718.55L446.53 715.06L455.7 711.57L465.27 708.07L475.27 704.58L485.71 701.08L496.63 697.59L508.04 694.09L519.96 690.6L532.43 687.1" fill="none" stroke="#262626" stroke-width="1.22" stroke-linejoin="round"/>
<path d="M309.45 826.9L312.15 823.4L315.01 819.91L318.03 816.41L321.22 812.92L324.57 809.42L328.09 805.93L331.77 802.43L335.62 798.94L339.63 795.45L343.81 791.95L348.15 788.46L352.65 784.96L357.32 781.47L362.16 777.97L367.16 774.48L372.32 770.98L377.65 767.49L383.14 763.99L388.8 760.5L394.62 757L401.37 753.5L408.25 750.01L415.31 746.51L422.56 743.02L430.02 739.52L437.74 736.03L445.72 732.53L454 729.04L462.59 725.54L471.54 722.05L480.85 718.55L490.55 715.06L500.68 711.57L511.25 708.07L522.29 704.58L533.82 701.08L545.88 697.59L558.48 694.09L571.65 690.6L585.41 687.1" fill="none" stroke="#262626" stroke-width="1.22" stroke-linejoin="round"/>
<path d="M337.85 826.9L340.75 823.4L343.83 819.91L347.09 816.41L350.52 812.92L354.13 809.42L357.92 805.93L361.89 802.43L366.03 798.94L370.35 795.45L374.85 791.95L379.52 788.46L384.37 784.96L389.4 781.47L394.61 777.97L399.99 774.48L405.56 770.98L411.29 767.49L417.21 763.99L423.3 760.5L429.58 757L436.49 753.5L443.55 750.01L450.79 746.51L458.22 743.02L465.88 739.52L473.79 736.03L481.98 732.53L490.47 729.04L499.29 725.54L508.46 722.05L518.01 718.55L527.96 715.06L538.35 711.57L549.19 708.07L560.51 704.58L572.34 701.08L584.71 697.59L597.63 694.09L611.14 690.6L625.25 687.1" fill="none" stroke="#262626" stroke-width="1.22" stroke-linejoin="round"/>
<path d="M366.25 826.9L369.36 823.4L372.65 819.91L376.14 816.41L379.82 812.92L383.69 809.42L387.75 805.93L392 802.43L396.44 798.94L401.07 795.45L405.89 791.95L410.89 788.46L416.09 784.96L421.48 781.47L427.06 777.97L432.83 774.48L438.79 770.98L444.94 767.49L451.28 763.99L457.81 760.5L464.52 757L471.93 753.5L479.5 750.01L487.25 746.51L495.22 743.02L503.43 739.52L511.9 736.03L520.68 732.53L529.77 729.04L539.22 725.54L549.04 722.05L559.28 718.55L569.94 715.06L581.07 711.57L592.68 708.07L604.82 704.58L617.49 701.08L630.74 697.59L644.59 694.09L659.06 690.6L674.18 687.1" fill="none" stroke="#262626" stroke-width="1.22" stroke-linejoin="round"/>
</g>
</g>
<g id="labels" opacity="0.999">
<rect x="45.1" y="21.6" width="167" height="21.4" fill="#fff" stroke="#333" stroke-width="1.1"/>
<text x="50" y="38.2" font-size="16.1" textLength="157" lengthAdjust="spacingAndGlyphs">LONG RANGE CRUISE</text>
<text x="36.3" y="63.29" font-size="10.6" text-anchor="end">7</text>
<text x="36.3" y="131.69" font-size="10.6" text-anchor="end">6</text>
<text x="36.3" y="201.59" font-size="10.6" text-anchor="end">5</text>
<text x="36.3" y="271.49" font-size="10.6" text-anchor="end">4</text>
<text x="36.3" y="341.39" font-size="10.6" text-anchor="end">3</text>
<text x="36.3" y="411.29" font-size="10.6" text-anchor="end">2</text>
<text x="24" y="245.5" font-size="10.6" text-anchor="middle" transform="rotate(-90 24 245.5)">TRIP TIME&#160; hr</text>
<text x="45.12" y="422.9" font-size="10.6" text-anchor="middle">20</text>
<text x="62.6" y="422.9" font-size="10.6" text-anchor="middle">10</text>
<text x="80.08" y="422.9" font-size="10.6" text-anchor="middle">0</text>
<text x="103.75" y="422.9" font-size="10.6" text-anchor="end">-10</text>
<text x="43.8" y="438.9" font-size="10.6" text-anchor="start">ISA DEV &#176;C</text>
<rect x="66.6" y="354" width="11.6" height="50" fill="#fff"/>
<text x="76.2" y="379.3" font-size="10.6" text-anchor="middle" transform="rotate(-90 76.2 379.3)">REF LINE</text>
<text x="488.3" y="137.8" font-size="10.6" text-anchor="start">BASED ON:</text>
<text x="488.3" y="151.2" font-size="10.6" text-anchor="start">280 / 0.74 CLIMB</text>
<text x="488.3" y="164.6" font-size="10.6" text-anchor="start">0.74 / 250 DESCENT</text>
<text x="612.3" y="305.84" font-size="10.6" text-anchor="start">26</text>
<text x="612.3" y="376.54" font-size="10.6" text-anchor="start">22</text>
<text x="612.3" y="446.44" font-size="10.6" text-anchor="start">18</text>
<text x="612.3" y="516.34" font-size="10.6" text-anchor="start">14</text>
<text x="612.3" y="586.24" font-size="10.6" text-anchor="start">10</text>
<text x="612.3" y="656.14" font-size="10.6" text-anchor="start">6</text>
<text x="638.6" y="482.3" font-size="10.6" text-anchor="middle" transform="rotate(-90 638.6 482.3)">FUEL REQUIRED&#160; 1000 kg</text>
<text x="499.48" y="668.2" font-size="10.6" text-anchor="middle">30</text>
<text x="534.42" y="668.2" font-size="10.6" text-anchor="middle">40</text>
<text x="569.38" y="668.2" font-size="10.6" text-anchor="middle">50</text>
<text x="604.33" y="668.2" font-size="10.6" text-anchor="middle">60</text>
<text x="547" y="685" font-size="10.6" text-anchor="middle">LANDING WEIGHT</text>
<text x="547" y="698" font-size="10.6" text-anchor="middle">1000 kg</text>
<rect x="538" y="597.5" width="11.6" height="53" fill="#fff"/>
<text x="547.6" y="623.3" font-size="10.6" text-anchor="middle" transform="rotate(-90 547.6 623.3)">REF LINE</text>
<rect x="434.5" y="528.3" width="60.5" height="37.3" fill="#fff"/>
<text x="464.6" y="537.6" font-size="10.6" text-anchor="middle">PRESSURE</text>
<text x="464.6" y="551.2" font-size="10.6" text-anchor="middle">ALTITUDE</text>
<text x="464.6" y="564.6" font-size="10.6" text-anchor="middle">1000 ft</text>
<text x="78.8" y="691.19" font-size="10.6" text-anchor="end">HEAD</text>
<text x="78.8" y="830.99" font-size="10.6" text-anchor="end">TAIL</text>
<text x="61.6" y="754.6" font-size="10.6" text-anchor="middle">WIND</text>
<text x="61.6" y="767.8" font-size="10.6" text-anchor="middle">kt</text>
<text x="97.5" y="691.19" font-size="10.6" text-anchor="middle">100</text>
<text x="97.5" y="726.14" font-size="10.6" text-anchor="middle">50</text>
<text x="106.4" y="761.09" font-size="10.6" text-anchor="end">0</text>
<text x="97.5" y="796.04" font-size="10.6" text-anchor="middle">50</text>
<text x="97.5" y="830.99" font-size="10.6" text-anchor="middle">100</text>
<rect x="123.5" y="743.5" width="51" height="11.5" fill="#fff"/>
<text x="125.4" y="753.7" font-size="10.6" text-anchor="start">REF LINE</text>
<text x="115.03" y="844.6" font-size="10.6" text-anchor="middle">1000</text>
<text x="202.4" y="844.6" font-size="10.6" text-anchor="middle">1500</text>
<text x="289.77" y="844.6" font-size="10.6" text-anchor="middle">2000</text>
<text x="377.15" y="844.6" font-size="10.6" text-anchor="middle">2500</text>
<text x="464.53" y="844.6" font-size="10.6" text-anchor="middle">3000</text>
<text x="284" y="861" font-size="10.6" text-anchor="middle">TRIP DISTANCE&#160; NM</text>
<g transform="translate(188.5 256.67) rotate(-47.8)">
<rect x="-1.5" y="-12.05" width="160.87" height="11.45" fill="#fff"/>
<text x="0" y="-2.2" font-size="10.6">PRESSURE ALTITUDE &#160;1000 FT</text>
</g>
<g transform="translate(352.4 75.89) rotate(-47.8)">
<rect x="-1.2" y="-12.85" width="14.19" height="11.45" fill="#fff"/>
<text x="0" y="-3" font-size="10.6">10</text>
</g>
<g transform="translate(410.6 75.55) rotate(-43.94)">
<rect x="-1.2" y="-13.05" width="14.19" height="11.45" fill="#fff"/>
<text x="0" y="-3.2" font-size="10.6">22</text>
</g>
<g transform="translate(407.5 102.15) rotate(-42.68)">
<rect x="-1.2" y="1.15" width="63.68" height="11.45" fill="#fff"/>
<text x="0" y="11" font-size="10.6">29 &amp; ABOVE</text>
</g>
<g transform="translate(168.5 567.41) rotate(-40.76)">
<rect x="-1.5" y="-12.37" width="158.07" height="11.77" fill="#fff"/>
<text x="0" y="-2.2" font-size="10.9">PRESSURE ALTITUDE &#160;1000 ft</text>
</g>
<g transform="translate(390.5 374.24) rotate(-41.68)">
<rect x="-1" y="-12.05" width="13.79" height="11.45" fill="#fff"/>
<text x="0" y="-2.2" font-size="10.6">10</text>
</g>
<g transform="translate(402.5 391.19) rotate(-40.22)">
<rect x="-1" y="-12.05" width="13.79" height="11.45" fill="#fff"/>
<text x="0" y="-2.2" font-size="10.6">14</text>
</g>
<g transform="translate(414 411.83) rotate(-37.89)">
<rect x="-1" y="-12.05" width="13.79" height="11.45" fill="#fff"/>
<text x="0" y="-2.2" font-size="10.6">18</text>
</g>
<g transform="translate(424.5 430.42) rotate(-35.35)">
<rect x="-1" y="-12.05" width="13.79" height="11.45" fill="#fff"/>
<text x="0" y="-2.2" font-size="10.6">22</text>
</g>
<g transform="translate(432.5 443.36) rotate(-33.97)">
<rect x="-1" y="-12.05" width="13.79" height="11.45" fill="#fff"/>
<text x="0" y="-2.2" font-size="10.6">25</text>
</g>
<g transform="translate(442 458.06) rotate(-32.12)">
<rect x="-1" y="-12.05" width="13.79" height="11.45" fill="#fff"/>
<text x="0" y="-2.2" font-size="10.6">29</text>
</g>
<g transform="translate(451 468.37) rotate(-31.65)">
<rect x="-1" y="-12.05" width="13.79" height="11.45" fill="#fff"/>
<text x="0" y="-2.2" font-size="10.6">33</text>
</g>
<g transform="translate(453.8 474.73) rotate(-30.89)">
<rect x="-0.6" y="-4.2" width="12.99" height="9.4" fill="#fff"/>
<text x="0" y="3.6" font-size="10.6">37</text>
</g>
<g transform="translate(581.8 557.31) rotate(-39.83)">
<rect x="-0.8" y="-10.85" width="13.39" height="11.45" fill="#fff"/>
<text x="0" y="-1" font-size="10.6">37</text>
</g>
<g transform="translate(581.1 570.66) rotate(-21.65)">
<rect x="-0.8" y="0.05" width="13.39" height="11.45" fill="#fff"/>
<text x="0" y="9.9" font-size="10.6">10</text>
</g>
<text x="7" y="898" font-size="14.3" font-weight="bold" style="fill:#111">Figure 4.3.1c</text>
<text x="117" y="898" font-size="14.7" style="fill:#111">Simplified Flight Planning &#8211; Trip Distances 1,000 NM to 3,000 NM</text>
</g>
</svg>
</body>
</html>
